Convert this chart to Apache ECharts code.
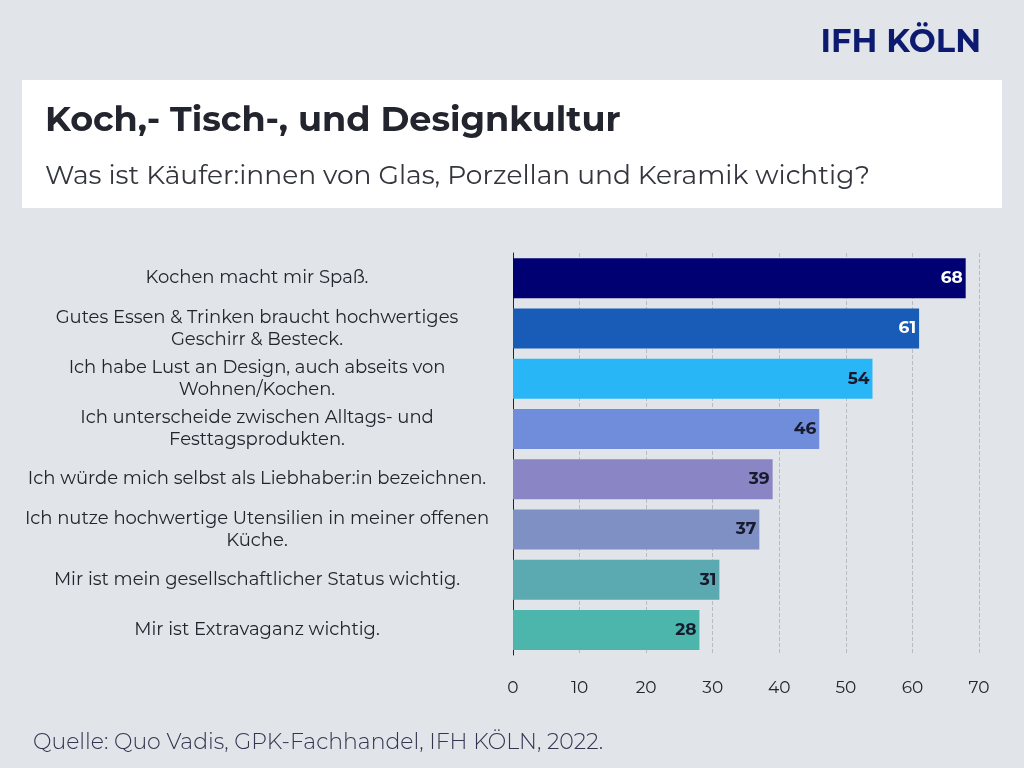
<!DOCTYPE html>
<html>
<head>
<meta charset="utf-8">
<script src="https://cdn.jsdelivr.net/npm/echarts@6/dist/echarts.min.js"></script>
<style>
  html, body { margin: 0; padding: 0; background: #e1e4e8; }
  #chart { width: 1024px; height: 768px; }
</style>
</head>
<body>
<div id="chart"></div>
<script>
// Kategorien und Werte (von oben nach unten), Zeilenumbrüche wie im Original
const categories = [
    'Kochen macht mir Spaß.',
    'Gutes Essen & Trinken braucht hochwertiges\nGeschirr & Besteck.',
    'Ich habe Lust an Design, auch abseits von\nWohnen/Kochen.',
    'Ich unterscheide zwischen Alltags- und\nFesttagsprodukten.',
    'Ich würde mich selbst als Liebhaber:in bezeichnen.',
    'Ich nutze hochwertige Utensilien in meiner offenen\nKüche.',
    'Mir ist mein gesellschaftlicher Status wichtig.',
    'Mir ist Extravaganz wichtig.'
];
const values = [68, 61, 54, 46, 39, 37, 31, 28];
const barColors = ['#000072', '#195cb8', '#29b6f6', '#708ddc', '#8a86c6', '#7e90c4', '#5ba9b1', '#4db6ac'];
const labelColors = ['#fff', '#fff', '#1a1a2e', '#1a1a2e', '#1a1a2e', '#1a1a2e', '#1a1a2e', '#1a1a2e'];

const FONT = 'Montserrat, "Open Sans", sans-serif';

let myChart = echarts.init(document.getElementById('chart'));
let option = {
    backgroundColor: '#e1e4e8',
    textStyle: { fontFamily: FONT },
    graphic: [
        // weißer Titelkasten
        { type: 'rect', left: 22, top: 80, shape: { width: 980, height: 128 }, style: { fill: '#fff' } },
        { type: 'text', left: 45, top: 103, style: { text: 'Koch,- Tisch-, und Designkultur', font: 'bold 35px ' + FONT, fill: '#22252d' } },
        { type: 'text', left: 45, top: 163, style: { text: 'Was ist Käufer:innen von Glas, Porzellan und Keramik wichtig?', font: '26.5px ' + FONT, fill: '#33363d' } },
        { type: 'text', right: 43, top: 27, style: { text: 'IFH KÖLN', font: 'bold 32px ' + FONT, fill: '#0c1a70' } },
        { type: 'text', left: 33, top: 732, style: { text: 'Quelle: Quo Vadis, GPK-Fachhandel, IFH KÖLN, 2022.', font: '300 22px ' + FONT, fill: '#333650' } }
    ],
    grid: { left: 513, right: 45, top: 253, bottom: 113 },
    xAxis: {
        type: 'value',
        min: 0,
        max: 70,
        interval: 10,
        axisLine: { show: false },
        axisTick: { show: false },
        splitLine: { lineStyle: { color: '#b9bcc0', type: 'dashed' } },
        axisLabel: { color: '#22252d', fontSize: 17, margin: 24 }
    },
    yAxis: {
        type: 'category',
        inverse: true,
        data: categories,
        axisTick: { show: false },
        axisLine: { lineStyle: { color: '#22252d' } },
        axisLabel: {
            color: '#22252d',
            fontSize: 18,
            lineHeight: 22,
            align: 'center',
            margin: 256
        }
    },
    series: [{
        type: 'bar',
        barWidth: 40,
        data: values.map((v, i) => ({
            value: v,
            itemStyle: { color: barColors[i] },
            label: { color: labelColors[i] }
        })),
        label: {
            show: true,
            position: 'insideRight',
            fontWeight: 'bold',
            fontSize: 17,
            offset: [2, 0]
        }
    }]
};
myChart.setOption(option);
</script>
</body>
</html>
